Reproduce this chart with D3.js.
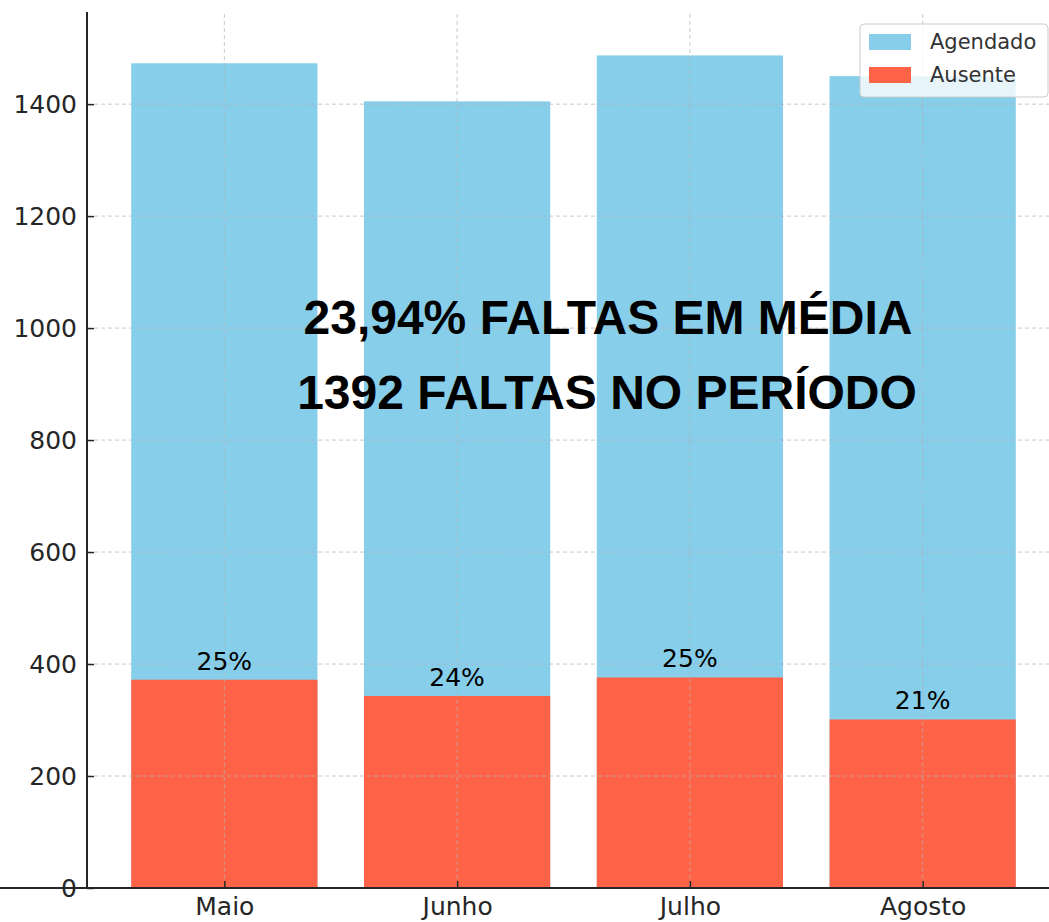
<!DOCTYPE html>
<html lang="pt">
<head>
<meta charset="UTF-8">
<title>Agendado x Ausente</title>
<script src="https://d3js.org/d3.v7.min.js"></script>
<style>
  body { margin: 0; background: #fff; }
  svg { display: block; }
</style>
</head>
<body>
<svg width="1049" height="922"></svg>
<script>
    // data
    const months = ["Maio", "Junho", "Julho", "Agosto"];
    const agendado = [1473, 1405, 1487, 1450];
    const ausente = [372, 343, 376, 301];
    const yTicks = [0, 200, 400, 600, 800, 1000, 1200, 1400];

    const svg = d3.select("svg");
    const left = 87, bottom = 888;

    // x is index based, like matplotlib's bar positions
    const x = d3.scaleLinear().domain([-0.59, 3.59]).range([left, 1060]);
    const y = d3.scaleLinear().domain([0, 1561]).range([bottom, 14]);
    const barW = x(0.8) - x(0);

    const g = svg.append("g");

    // bars - agendado behind, ausente in front
    g.selectAll("rect.ag").data(agendado).enter().append("rect")
        .attr("class", "ag")
        .attr("x", (d, i) => x(i) - barW / 2)
        .attr("y", d => y(d))
        .attr("width", barW)
        .attr("height", d => bottom - y(d))
        .attr("fill", "#87CEEB");

    g.selectAll("rect.au").data(ausente).enter().append("rect")
        .attr("class", "au")
        .attr("x", (d, i) => x(i) - barW / 2)
        .attr("y", d => y(d))
        .attr("width", barW)
        .attr("height", d => bottom - y(d))
        .attr("fill", "#FF6347");

    // grid on top of the bars
    const grid = svg.append("g")
        .attr("stroke", "#b0b0b0")
        .attr("stroke-opacity", 0.7)
        .attr("stroke-width", 1)
        .attr("stroke-dasharray", "4,3");
    grid.selectAll("line.h").data(yTicks).enter().append("line")
        .attr("x1", left).attr("x2", 1060)
        .attr("y1", d => y(d)).attr("y2", d => y(d));
    grid.selectAll("line.v").data(months).enter().append("line")
        .attr("x1", (d, i) => x(i)).attr("x2", (d, i) => x(i))
        .attr("y1", 14).attr("y2", bottom);

    // percent labels
    svg.selectAll("text.pct").data(ausente).enter().append("text")
        .attr("x", (d, i) => x(i))
        .attr("y", d => y(d) - 10)
        .attr("text-anchor", "middle")
        .attr("font-family", "DejaVu Sans")
        .attr("font-size", 25)
        .attr("fill", "#000")
        .text((d, i) => Math.round(d / agendado[i] * 100) + "%");

    // axes - ticks pointing inwards
    const yAxis = svg.append("g").attr("transform", `translate(${left},0)`)
        .call(d3.axisLeft(y).tickValues(yTicks).tickFormat(d3.format("d"))
            .tickSizeInner(-7).tickSizeOuter(0).tickPadding(10));
    const xAxis = svg.append("g").attr("transform", `translate(0,${bottom})`)
        .call(d3.axisBottom(x).tickValues(d3.range(months.length)).tickFormat(i => months[i])
            .tickSizeInner(-7).tickSizeOuter(0).tickPadding(9));

    [yAxis, xAxis].forEach(ax => {
        ax.selectAll("text").attr("font-family", "DejaVu Sans").attr("font-size", 25).attr("fill", "#262626");
        ax.selectAll("line").attr("stroke", "#262626").attr("stroke-width", 1.5);
        ax.select(".domain").attr("stroke", "#262626").attr("stroke-width", 2);
    });
    yAxis.select(".domain").attr("d", `M0,${12}V${bottom}`);
    xAxis.select(".domain").attr("d", `M0,0H1060`);

    // big annotation
    const total = d3.sum(ausente);
    const media = (total / d3.sum(agendado) * 100).toFixed(2).replace(".", ",");
    const note = svg.append("g")
        .attr("font-family", "Liberation Sans, Arial, sans-serif")
        .attr("font-weight", "bold")
        .attr("font-size", 48)
        .attr("text-anchor", "middle")
        .attr("fill", "#000");
    note.append("text").attr("x", 608).attr("y", 334).text(media + "% FALTAS EM MÉDIA");
    note.append("text").attr("x", 607).attr("y", 409).text(total + " FALTAS NO PERÍODO");

    // legend
    const legend = svg.append("g").attr("transform", "translate(860,24)");
    legend.append("rect")
        .attr("width", 188).attr("height", 73).attr("rx", 4)
        .attr("fill", "#fff").attr("fill-opacity", 0.8)
        .attr("stroke", "#cccccc").attr("stroke-width", 1);
    const items = [{name: "Agendado", color: "#87CEEB"}, {name: "Ausente", color: "#FF6347"}];
    items.forEach((it, i) => {
        legend.append("rect")
            .attr("x", 9).attr("y", 10 + i * 33)
            .attr("width", 42).attr("height", 16)
            .attr("fill", it.color);
        legend.append("text")
            .attr("x", 70).attr("y", 25 + i * 33)
            .attr("font-family", "DejaVu Sans")
            .attr("font-size", 21)
            .attr("fill", "#333")
            .text(it.name);
    });
</script>
</body>
</html>
